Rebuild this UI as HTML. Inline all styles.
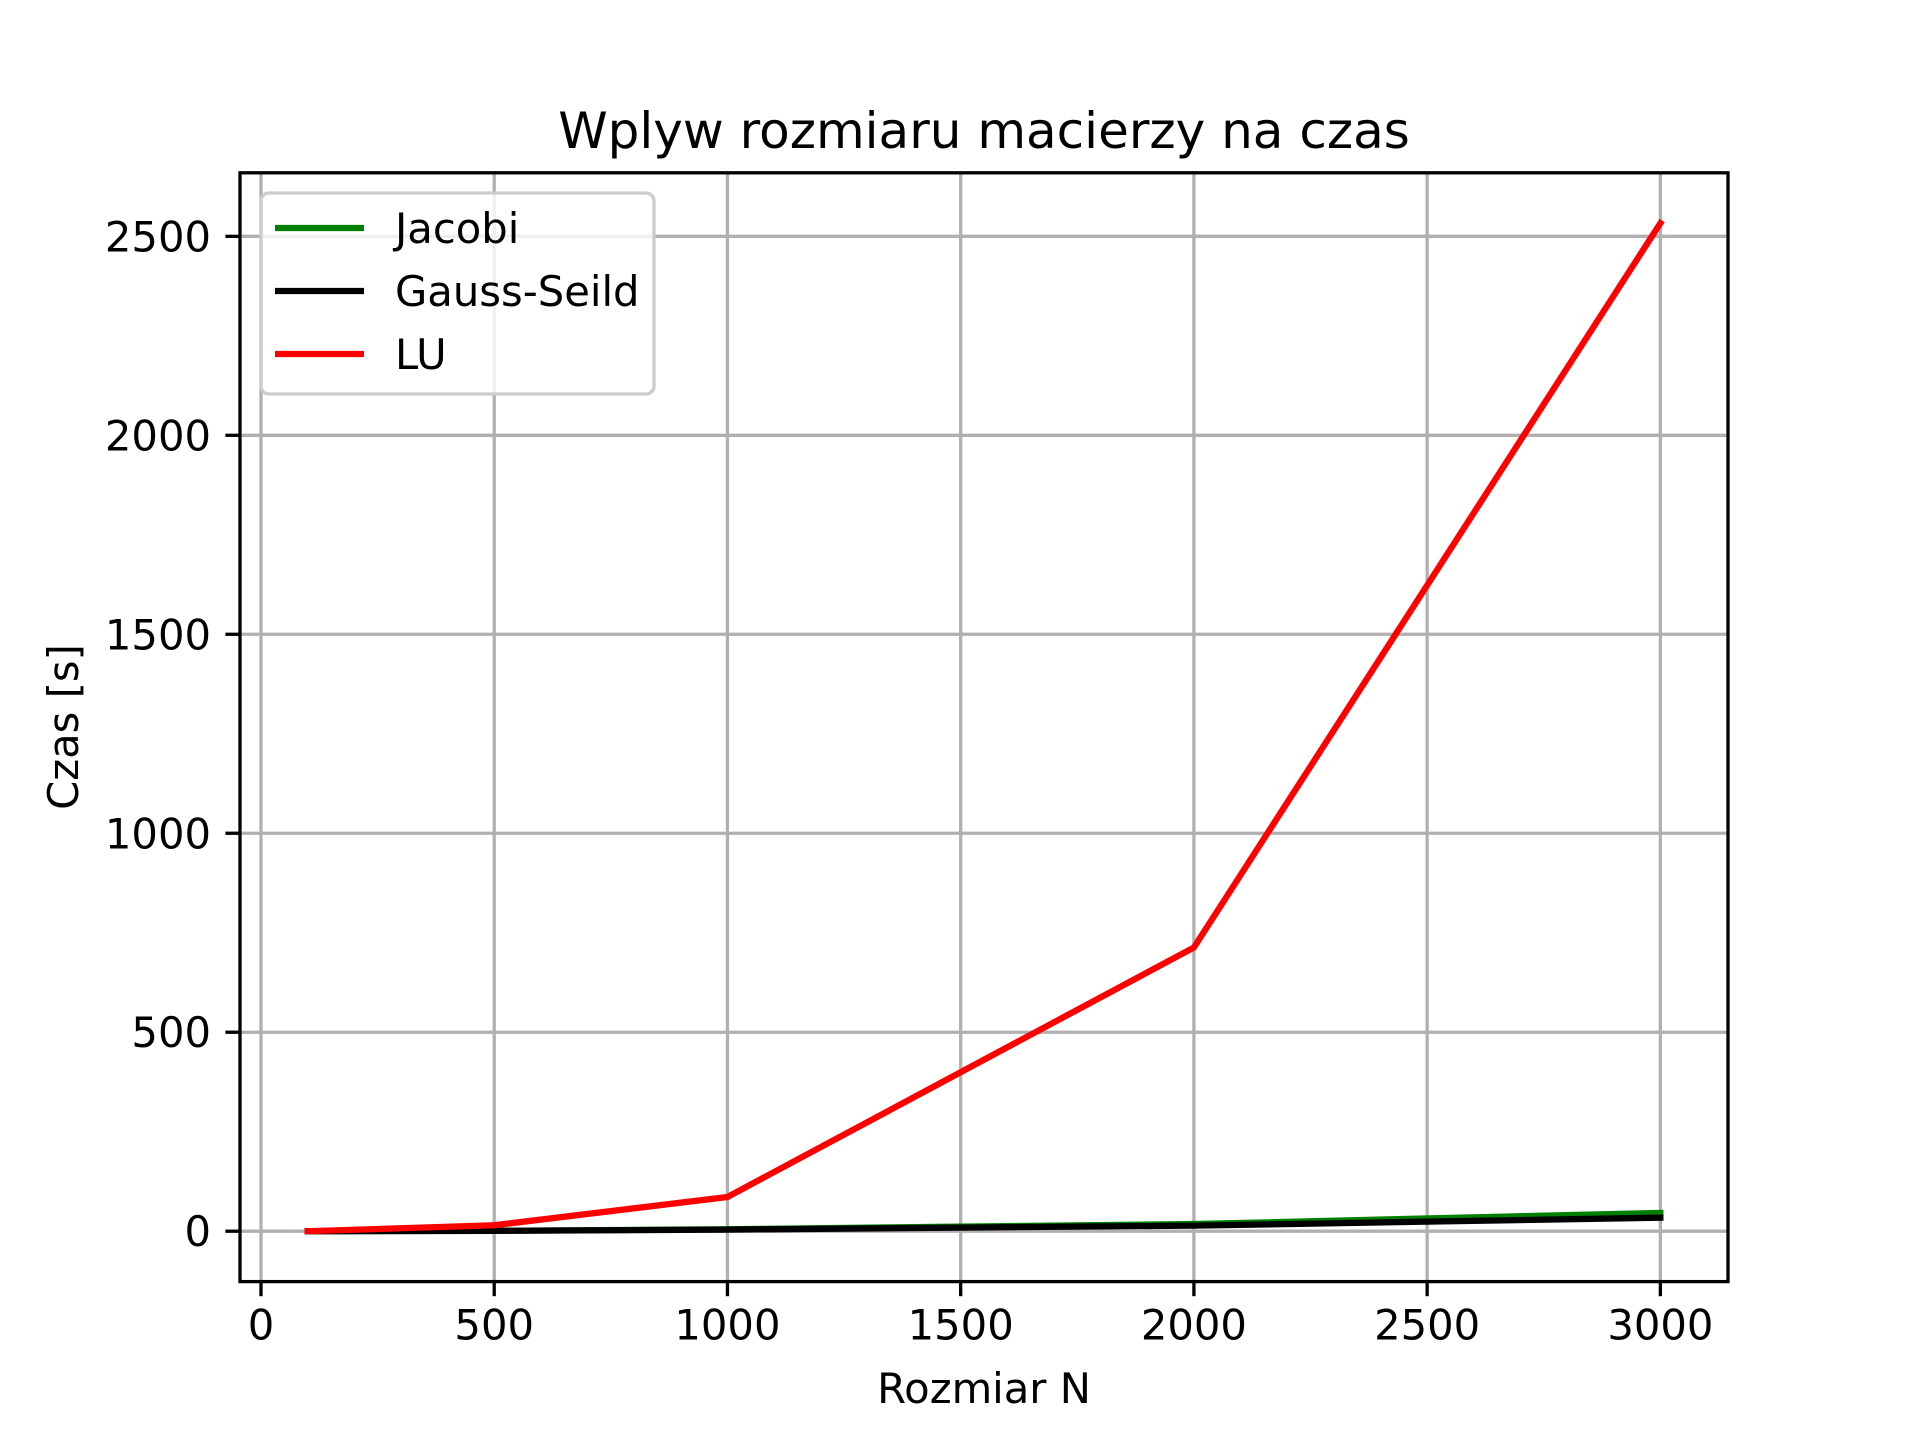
<!DOCTYPE html>
<html><head><meta charset="utf-8"><style>
html,body{margin:0;padding:0;background:#fff;}
svg{display:block;font-family:"DejaVu Sans","Liberation Sans",sans-serif;}
</style></head><body>
<svg id="chart" width="1920" height="1440" viewBox="0 0 1920 1440">
<rect width="1920" height="1440" fill="#fff"/>
<g id="grid"></g>
<g id="series"></g>
<rect x="240" y="172.8" width="1488" height="1108.8" fill="none" stroke="#000" stroke-width="3.3"/>
<g id="ticks"></g>
<text x="984" y="148" font-size="50" text-anchor="middle">Wplyw rozmiaru macierzy na czas</text>
<text x="984" y="1403" font-size="41.7" text-anchor="middle">Rozmiar N</text>
<text x="0" y="0" font-size="41.7" text-anchor="middle" transform="translate(78,727) rotate(-90)">Czas [s]</text>
<g>
<rect x="261" y="193" width="393" height="201" rx="8" fill="#fff" fill-opacity="0.8" stroke="#cccccc" stroke-width="3.3"/>
<g id="legend-entries"></g>
</g>
</svg>
<script>
const categories = [100, 500, 1000, 2000, 3000];
const jacobi = [0.05, 1, 5, 18, 46];
const gauss = [0.04, 0.8, 4, 14, 34];
const lu = [0, 15, 86, 713, 2533];
const xTicks = [0, 500, 1000, 1500, 2000, 2500, 3000];
const yTicks = [0, 500, 1000, 1500, 2000, 2500];
const seriesNames = ["Jacobi", "Gauss-Seild", "LU"];

const NS = "http://www.w3.org/2000/svg";
const L=240,R=1728,T=172.8,B=1281.6;
const allY = jacobi.concat(gauss, lu);
const yMinD = Math.min(...allY), yMaxD = Math.max(...allY);
const yPad = (yMaxD - yMinD) * 0.05;
const xMinD = Math.min(...categories), xMaxD = Math.max(...categories);
const xPad = (xMaxD - xMinD) * 0.05;
const x = v => L + (v - (xMinD - xPad)) / ((xMaxD + xPad) - (xMinD - xPad)) * (R - L);
const y = v => B - (v - (yMinD - yPad)) / ((yMaxD + yPad) - (yMinD - yPad)) * (B - T);
function mk(tag, attrs, parent){const e=document.createElementNS(NS,tag);for(const k in attrs)e.setAttribute(k,attrs[k]);parent.appendChild(e);return e;}
const grid=document.getElementById('grid'), ticks=document.getElementById('ticks'), series=document.getElementById('series');
xTicks.forEach(t=>{
  const g=mk('line',{x1:x(t),x2:x(t),y1:T,y2:B,stroke:'#b0b0b0','stroke-width':3.3},grid);
  
  
  mk('line',{x1:x(t),x2:x(t),y1:B,y2:B+14.6,stroke:'#000','stroke-width':3.3},ticks);
  const tx=mk('text',{x:x(t),y:B+58,'font-size':41.7,'text-anchor':'middle'},ticks);
  tx.textContent=t;
  
  
});
yTicks.forEach(t=>{
  const g=mk('line',{x1:L,x2:R,y1:y(t),y2:y(t),stroke:'#b0b0b0','stroke-width':3.3},grid);
  
  
  mk('line',{x1:L-14.6,x2:L,y1:y(t),y2:y(t),stroke:'#000','stroke-width':3.3},ticks);
  const tx=mk('text',{x:L-29,y:y(t)+15,'font-size':41.7,'text-anchor':'end'},ticks);
  tx.textContent=t;
  
  
});
const data=[jacobi,gauss,lu], colors=['#008000','#000000','#ff0000'], names=['jacobi-line','gauss-seild-line','lu-line'];
data.forEach((d,i)=>{
  const p=mk('polyline',{points:d.map((v,j)=>x(categories[j])+','+y(v)).join(' '),fill:'none',stroke:colors[i],'stroke-width':6.25,'stroke-linejoin':'round','stroke-linecap':'square'},series);
  
  
});
const le=document.getElementById('legend-entries');
seriesNames.forEach((n,i)=>{
  const yy=228+i*63;
  const g=mk('g',{},le);
  
  
  mk('line',{x1:275,x2:364,y1:yy,y2:yy,stroke:colors[i],'stroke-width':6.25},g);
  const t=mk('text',{x:395,y:yy+15,'font-size':41.7},g);
  t.textContent=n;
});
</script>
</body></html>
